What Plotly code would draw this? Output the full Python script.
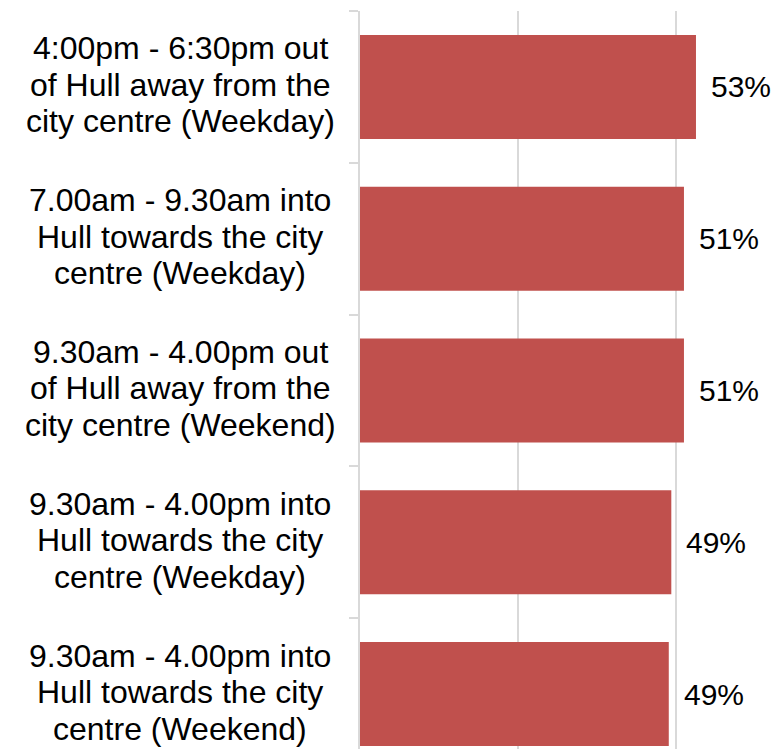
import plotly.graph_objects as go

categories = [
    "4:00pm - 6:30pm out<br>of Hull away from the<br>city centre (Weekday)",
    "7.00am - 9.30am into<br>Hull towards the city<br>centre (Weekday)",
    "9.30am - 4.00pm out<br>of Hull away from the<br>city centre (Weekend)",
    "9.30am - 4.00pm into<br>Hull towards the city<br>centre (Weekday)",
    "9.30am - 4.00pm into<br>Hull towards the city<br>centre (Weekend)",
]
values = [0.531, 0.512, 0.512, 0.492, 0.488]
value_labels = ["53%", "51%", "51%", "49%", "49%"]

idx = list(range(len(categories)))
FONT = "Liberation Sans, Arial, sans-serif"
GRID = "#d9d9d9"

fig = go.Figure()
fig.add_trace(go.Bar(
    x=values, y=idx, orientation="h", width=0.685,
    marker=dict(color="#C0504D", line=dict(width=0)),
    hoverinfo="skip",
))

annotations = []
LINE_H = 36.5
for i, cat in enumerate(categories):
    lines = cat.split("<br>")
    n = len(lines)
    for j, ln in enumerate(lines):
        annotations.append(dict(
            x=-0.4295, xref="paper", y=i, yref="y",
            text=ln, showarrow=False, xanchor="center", yanchor="middle",
            yshift=((n - 1) / 2 - j) * LINE_H + 2,
            font=dict(family=FONT, size=32, color="#000000"),
        ))
for i, (v, t) in enumerate(zip(values, value_labels)):
    annotations.append(dict(
        x=v, xref="x", y=i, yref="y", text=t, showarrow=False,
        xanchor="left", yanchor="middle", xshift=13,
        font=dict(family=FONT, size=30, color="#000000"),
    ))

fig.update_layout(
    width=771, height=741,
    margin=dict(l=352, r=0, t=3, b=0),
    plot_bgcolor="white", paper_bgcolor="white",
    showlegend=False,
    annotations=annotations,
    xaxis=dict(range=[0, 0.6622], dtick=0.25, tick0=0, showgrid=True,
               gridcolor=GRID, gridwidth=1.5, showticklabels=False,
               zeroline=False, showline=False, ticks=""),
    yaxis=dict(range=[4.362, -0.5], showgrid=False, zeroline=False,
               showline=True, linecolor=GRID, linewidth=1.5,
               tickmode="array", tickvals=[-0.5, 0.5, 1.5, 2.5, 3.5],
               ticks="outside", ticklen=9, tickcolor=GRID, tickwidth=1.5,
               showticklabels=False),
)

fig.write_html("out.html")
